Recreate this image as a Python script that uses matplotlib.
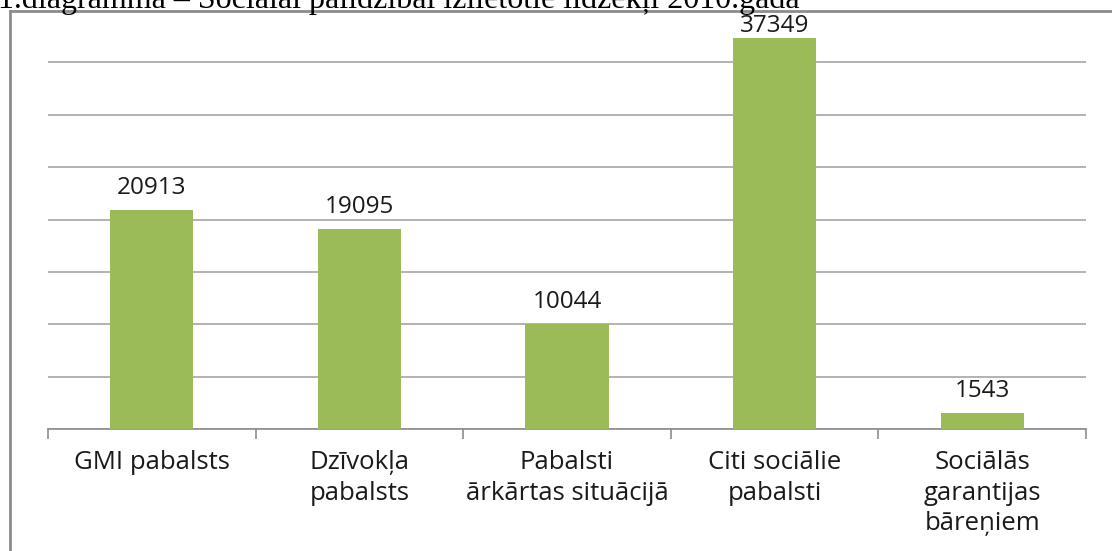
import numpy as np
import matplotlib.pyplot as plt
from matplotlib.lines import Line2D

categories = ["GMI pabalsts", "Dzīvokļa\npabalsts", "Pabalsti\nārkārtas situācijā",
              "Citi sociālie\npabalsti", "Sociālās\ngarantijas\nbāreņiem"]
values = [20913, 19095, 10044, 37349, 1543]
title = "1.diagramma – Sociālai palīdzībai izlietotie līdzekļi 2010.gadā"

bar_color = "#9BBB59"
grid_color = "#A6A6A6"
label_font = ["Open Sans", "DejaVu Sans"]
y_top = 40000

fig = plt.figure(figsize=(11.12, 5.51), dpi=100)
ax_h = (429 - 10) / 551
ax = fig.add_axes([48 / 1112, 122 / 551, (1086 - 48) / 1112, ax_h])

x = np.arange(len(categories))
ax.bar(x, values, width=0.4, color=bar_color, zorder=3)
label_size = 17.5
for xi, v in zip(x, values):
    # like Excel, squeeze the label down when it would leave the plot area
    headroom = (y_top - v) / y_top * ax_h * 5.51 * 72
    off = max(0, min(7, headroom - label_size * 1.15))
    ax.annotate(str(v), (xi, v), xytext=(0, off), textcoords="offset points",
                ha="center", va="bottom", fontsize=label_size, family=label_font,
                color="#1a1a1a", zorder=5)

ax.set_xlim(-0.5, len(categories) - 0.5)
ax.set_ylim(0, y_top)
ax.set_yticks(np.arange(0, y_top, 5000))
ax.yaxis.grid(True, color=grid_color, linewidth=1.2, zorder=0)
ax.tick_params(axis="y", left=False, labelleft=False)

# category boundaries get the tick marks, labels sit in between
ax.set_xticks(np.arange(-0.5, len(categories), 1.0))
ax.set_xticklabels([])
ax.set_xticks(x, minor=True)
ax.set_xticklabels(categories, minor=True, fontsize=18.5, family=label_font,
                   color="#1a1a1a", linespacing=1.3)
ax.tick_params(axis="x", which="major", direction="out", length=7, width=1.2, color="#8C8C8C")
ax.tick_params(axis="x", which="minor", length=0, pad=15)

for side in ["top", "right", "left"]:
    ax.spines[side].set_visible(False)
ax.spines["bottom"].set_color("#8C8C8C")
ax.spines["bottom"].set_linewidth(1.2)
ax.set_axisbelow(True)

# chart border (left and top only, the rest is cropped away)
fig.add_artist(Line2D([10 / 1112, 10 / 1112], [0, 1 - 11 / 551], color="#8C8C8C", linewidth=2,
                      transform=fig.transFigure))
fig.add_artist(Line2D([10 / 1112, 1], [1 - 11 / 551, 1 - 11 / 551], color="#8C8C8C", linewidth=2,
                      transform=fig.transFigure))

fig.text(-2 / 1112, 1 - 8 / 551, title, family=["Liberation Serif", "DejaVu Serif"],
         fontsize=23, va="baseline", ha="left", color="black")

fig.savefig("out.png", dpi=100, facecolor="white")
